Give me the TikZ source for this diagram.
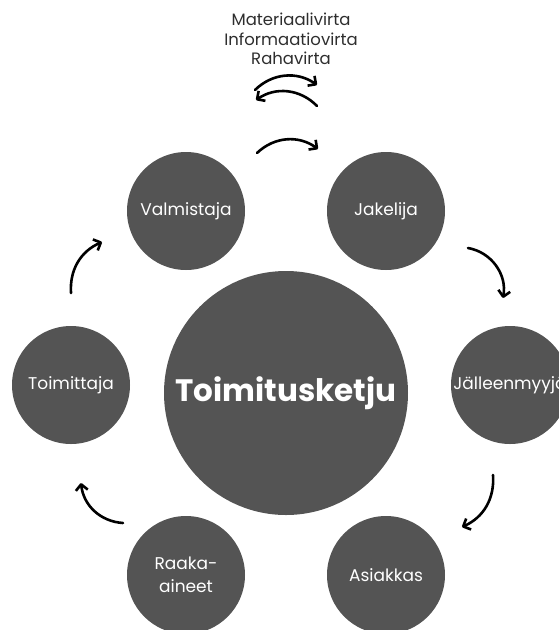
\documentclass[tikz,border=0pt]{standalone}
\usepackage{fontspec}
\setmainfont{Poppins}
\usetikzlibrary{arrows.meta}

\definecolor{pallo}{HTML}{545454}
\definecolor{selite}{HTML}{2E2E2E}

\tikzset{
  vaihe/.style={fill=pallo, shape=circle, minimum size=118pt, inner sep=0pt,
    text=white, align=center, font=\fontsize{17}{23}\selectfont},
  nuoli/.style={line width=2.6pt, line cap=round,
    -{Straight Barb[length=6pt,width=12pt,line join=round]}}
}

\begin{document}
\begin{tikzpicture}[x=1pt, y=-1pt]
    \useasboundingbox (0,0) rectangle (558,630);

    % selite ylhaalla
    \node[text=selite, align=center, font=\fontsize{16.5}{19.5}\selectfont] (sel) at (291,39)
        {Materiaalivirta\\Informaatiovirta\\Rahavirta};
    \coordinate (s1a) at (255,90);
    \coordinate (s1b) at (317,85);
    \coordinate (s2a) at (317,106);
    \coordinate (s2b) at (256,100);
    \draw[nuoli] (s1a) to[bend left=40] (s1b);
    \draw[nuoli] (s2a) to[bend right=40] (s2b);

    % keskus ja vaiheet
    \node[vaihe, minimum size=244pt, font=\fontsize{31}{36}\selectfont\bfseries] (keski) at (286,393) {Toimitusketju};
    \node[vaihe] (valm) at (186,211) {Valmistaja};
    \node[vaihe] (jak)  at (386,211) {Jakelija};
    \node[vaihe] (jall) at (510,385) {Jälleenmyyjä};
    \node[vaihe] (asi)  at (386,575) {Asiakkas};
    \node[vaihe] (raak) at (186,575) {Raaka-\\aineet};
    \node[vaihe] (toim) at (71,385)  {Toimittaja};

    % nuolten paat
    \coordinate (n1a) at (257,153);
    \coordinate (n1b) at (318,149);
    \coordinate (n2a) at (468,248);
    \coordinate (n2b) at (503,298);
    \coordinate (n3a) at (493,475);
    \coordinate (n3b) at (462,527);
    \coordinate (n4a) at (123,523);
    \coordinate (n4b) at (81,483);
    \coordinate (n5a) at (71,293);
    \coordinate (n5b) at (102,242);

    \draw[nuoli] (n1a) to[bend left=40] (n1b);
    \draw[nuoli] (n2a) to[bend left=45] (n2b);
    \draw[nuoli] (n3a) to[bend left=35] (n3b);
    \draw[nuoli] (n4a) to[bend left=40] (n4b);
    \draw[nuoli] (n5a) to[bend left=35] (n5b);
\end{tikzpicture}
\end{document}
